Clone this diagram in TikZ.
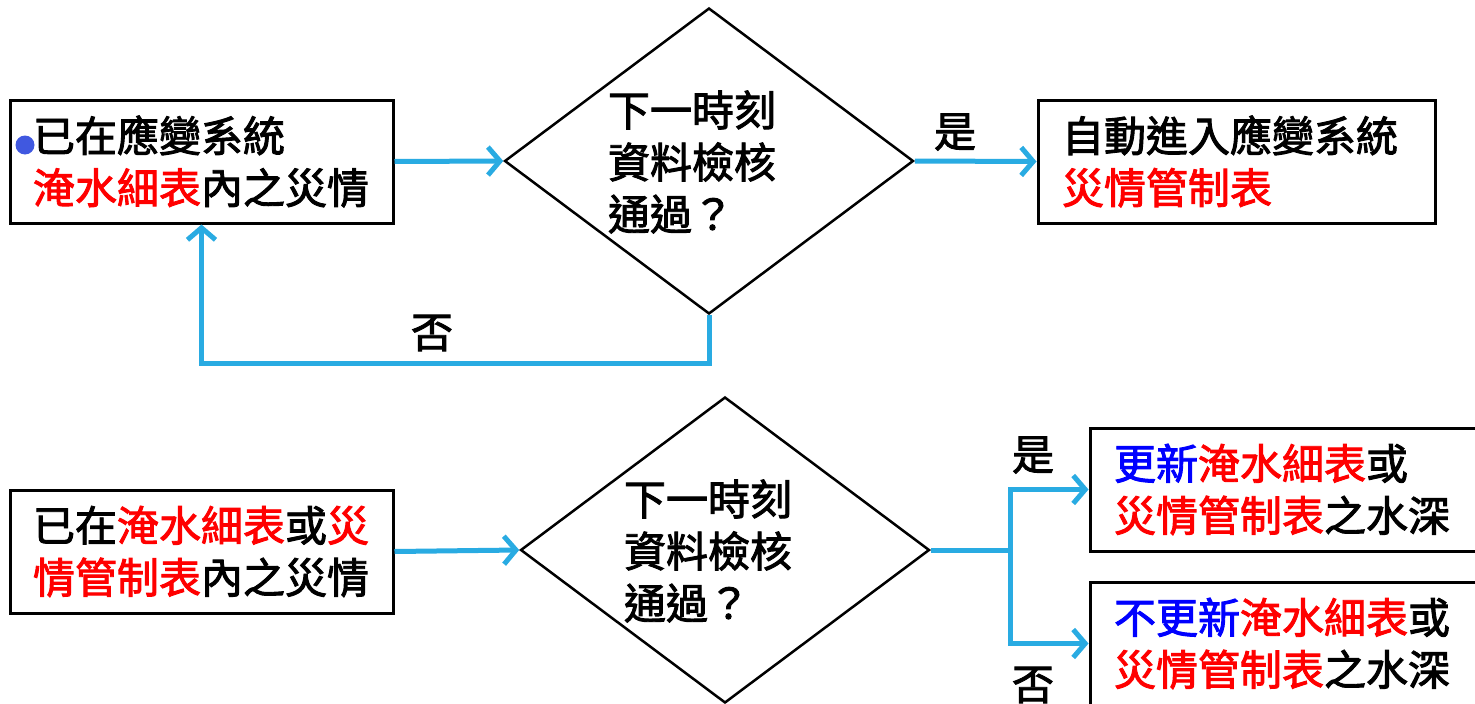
\documentclass[tikz,border=0pt]{standalone}
\usepackage{fontspec}
\setmainfont{Noto Sans CJK TC}
\newfontfamily\cjkb{Noto Sans CJK TC}[FakeBold=2.2]
\usetikzlibrary{shapes.geometric,arrows.meta}
\definecolor{arr}{HTML}{29ABE2}
\definecolor{bul}{HTML}{4058E0}
\definecolor{rd}{HTML}{FF0000}
\definecolor{bl}{HTML}{0000FF}
\newcommand{\R}[1]{\textcolor{rd}{#1}}
\newcommand{\B}[1]{\textcolor{bl}{#1}}
\begin{document}
\begin{tikzpicture}[x=1pt,y=-1pt,
  txt/.style={font=\fontsize{42pt}{52pt}\cjkb, inner sep=0pt},
  box/.style={txt, draw=black, line width=3pt, minimum height=123pt, align=left},
  dia/.style={diamond, draw=black, line width=2.5pt, inner sep=0pt, minimum width=409pt, minimum height=306pt},
  flow/.style={draw=arr, line width=5pt, -{Straight Barb[length=12pt,width=28pt]}},
  link/.style={draw=arr, line width=5pt}
]
\useasboundingbox (0,0) rectangle (1475,704);
% top row
\node[box, minimum width=383pt, text width=337pt] (b1) at (201.5,161.5) {已在應變系統\\\R{淹水細表}內之災情};
\node[circle, fill=bul, minimum size=19pt, inner sep=0pt] (dot) at (25,145) {};
\node[dia] (d1) at (709,161) {};
\node[txt, align=left] (d1t) at (692,162) {下一時刻\\資料檢核\\通過？};
\node[box, minimum width=397pt, text width=349pt] (b2) at (1236.5,161.5) {自動進入應變系統\\\R{災情管制表}};
\draw[flow] (b1.east) -- (d1.west);
\draw[flow] (d1.east) -- (b2.west);
\node[txt] (yes1) at (955,132) {是};
\coordinate (lp) at (709,363);
\draw[flow] (d1.south) -- (lp) -| (b1.south);
\node[txt] (no1) at (432,333) {否};
% bottom row
\node[box, minimum width=383pt, text width=337pt] (b3) at (201.5,551.5) {已在\R{淹水細表}或\R{災}\\\R{情管制表}內之災情};
\node[dia] (d2) at (725,550) {};
\node[txt, align=left] (d2t) at (708,551) {下一時刻\\資料檢核\\通過？};
\node[box, minimum width=400pt, text width=352pt] (b4) at (1290,489.5) {\B{更新}\R{淹水細表}或\\\R{災情管制表}之水深};
\node[box, minimum width=400pt, text width=352pt] (b5) at (1290,643.5) {\B{不更新}\R{淹水細表}或\\\R{災情管制表}之水深};
\draw[flow] (b3.east) -- (d2.west);
\coordinate (br) at (1010,550);
\draw[link] (d2.east) -- (br);
\draw[flow] (br) |- (b4.west);
\draw[flow] (br) |- (b5.west);
\node[txt] (yes2) at (1033,455) {是};
\node[txt] (no2) at (1033,685) {否};
\end{tikzpicture}
\end{document}
